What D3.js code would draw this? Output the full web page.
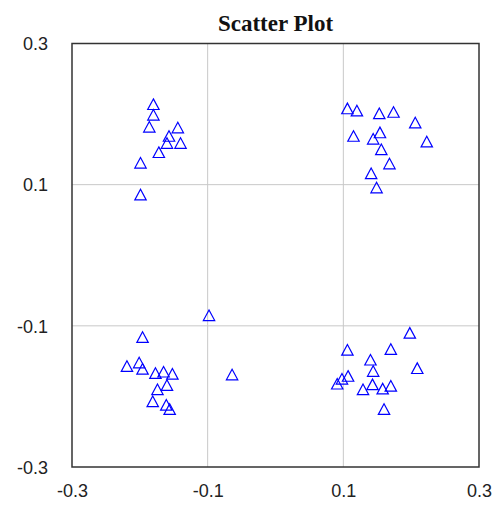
<!DOCTYPE html>
<html>
<head>
<meta charset="utf-8">
<script src="https://cdn.jsdelivr.net/npm/d3@7"></script>
<style>
  html, body { margin: 0; padding: 0; background: #fff; }
  svg { display: block; }
</style>
</head>
<body>
<div id="chart"></div>
<script>
// DATA: four clusters
const xValues = [
  -0.180, -0.180, -0.186, -0.144, -0.157, -0.160, -0.140, -0.172, -0.199, -0.199,
  0.106, 0.120, 0.153, 0.174, 0.206, 0.115, 0.154, 0.144, 0.223, 0.156, 0.168, 0.141, 0.149,
  -0.098, -0.196, -0.219, -0.201, -0.196, -0.177, -0.165, -0.152, -0.064, -0.160, -0.174, -0.181, -0.161, -0.156,
  0.198, 0.106, 0.170, 0.140, 0.209, 0.144, 0.107, 0.098, 0.091, 0.143, 0.129, 0.158, 0.170, 0.160
];
const yValues = [
  0.214, 0.199, 0.182, 0.181, 0.169, 0.159, 0.159, 0.146, 0.131, 0.086,
  0.208, 0.205, 0.201, 0.203, 0.188, 0.169, 0.174, 0.165, 0.161, 0.150, 0.130, 0.116, 0.096,
  -0.085, -0.116, -0.157, -0.152, -0.161, -0.167, -0.165, -0.168, -0.169, -0.184, -0.190, -0.207, -0.212, -0.218,
  -0.110, -0.134, -0.133, -0.148, -0.160, -0.164, -0.171, -0.175, -0.182, -0.183, -0.190, -0.189, -0.185, -0.218
];
const xTicks = [-0.3, -0.1, 0.1, 0.3];
const yTicks = [-0.3, -0.1, 0.1, 0.3];
const gridValues = [-0.1, 0.1];
const chartTitle = 'Scatter Plot';

const width = 493, height = 507;
const margin = { top: 43.5, right: 14, bottom: 40, left: 72 };

const svg = d3.select('#chart').append('svg')
  .attr('width', width)
  .attr('height', height);

const x = d3.scaleLinear().domain([-0.3, 0.3]).range([margin.left, width - margin.right]);
const y = d3.scaleLinear().domain([-0.3, 0.3]).range([height - margin.bottom, margin.top]);

// GRID
svg.append('g')
  .selectAll('line')
  .data(gridValues)
  .join('line')
  .attr('x1', d => x(d)).attr('x2', d => x(d))
  .attr('y1', y(-0.3)).attr('y2', y(0.3))
  .attr('stroke', '#c8c8c8').attr('stroke-width', 1);

svg.append('g')
  .selectAll('line')
  .data(gridValues)
  .join('line')
  .attr('y1', d => y(d)).attr('y2', d => y(d))
  .attr('x1', x(-0.3)).attr('x2', x(0.3))
  .attr('stroke', '#c8c8c8').attr('stroke-width', 1);

// AXES (labels only, no tick marks)
const fmt = d => d3.format('.1f')(d).replace('−', '-');

const xAxis = svg.append('g')
  .attr('transform', `translate(0,${height - margin.bottom})`)
  .call(d3.axisBottom(x).tickValues(xTicks).tickFormat(fmt).tickSize(0).tickPadding(30));
xAxis.select('.domain').remove();

const yAxis = svg.append('g')
  .attr('transform', `translate(${margin.left},0)`)
  .call(d3.axisLeft(y).tickValues(yTicks).tickFormat(fmt).tickSize(0).tickPadding(24));
yAxis.select('.domain').remove();

svg.selectAll('.tick text')
  .attr('font-family', 'Arial, "Liberation Sans", sans-serif')
  .attr('font-size', 18)
  .attr('fill', '#222');
yAxis.selectAll('.tick text').attr('dy', '0.35em');
xAxis.selectAll('.tick text').attr('dy', '0');

// FRAME
svg.append('rect')
  .attr('x', x(-0.3)).attr('y', y(0.3))
  .attr('width', x(0.3) - x(-0.3))
  .attr('height', y(-0.3) - y(0.3))
  .attr('fill', 'none')
  .attr('stroke', '#333')
  .attr('stroke-width', 1.5);

// TITLE
svg.append('text')
  .attr('x', (x(-0.3) + x(0.3)) / 2)
  .attr('y', 31)
  .attr('text-anchor', 'middle')
  .attr('font-family', '"Times New Roman", "Liberation Serif", serif')
  .attr('font-weight', 'bold')
  .attr('font-size', 23)
  .attr('fill', '#111')
  .text(chartTitle);

// POINTS
const tri = 'M0,-5.3L5.7,5.3L-5.7,5.3Z';
svg.append('g')
  .selectAll('path')
  .data(d3.range(xValues.length))
  .join('path')
  .attr('d', tri)
  .attr('transform', i => `translate(${x(xValues[i])},${y(yValues[i])})`)
  .attr('fill', 'none')
  .attr('stroke', '#0000ff')
  .attr('stroke-width', 1.2);
</script>
</body>
</html>
